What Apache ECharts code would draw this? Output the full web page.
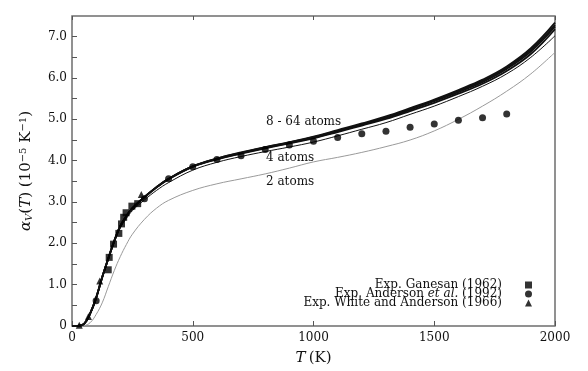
<!DOCTYPE html>
<html><head><meta charset="utf-8">
<script src="https://cdn.jsdelivr.net/npm/echarts@6/dist/echarts.min.js"></script>
<style>html,body{margin:0;padding:0;background:#fff}#c{width:588px;height:371px}</style>
</head><body><div id="c"></div>
<script>
// Temperature grid for computed curves (K)
const T = [0,25,50,75,100,125,150,175,200,225,250,300,350,400,500,600,700,800,900,1000,1100,1200,1300,1400,1500,1600,1700,1800,1900,2000];
// 8 - 64 atoms (four nearly overlapping curves)
const atoms64 = [0,0.005,0.05,0.30,0.68,1.18,1.63,2.06,2.42,2.66,2.85,3.12,3.36,3.56,3.86,4.05,4.20,4.33,4.45,4.58,4.74,4.90,5.07,5.27,5.48,5.71,5.96,6.28,6.72,7.34];
const atoms32 = [0,0.005,0.05,0.30,0.68,1.18,1.63,2.06,2.42,2.66,2.85,3.12,3.36,3.56,3.86,4.05,4.19,4.32,4.44,4.57,4.72,4.88,5.05,5.25,5.46,5.69,5.93,6.25,6.68,7.28];
const atoms16 = [0,0.005,0.05,0.30,0.68,1.18,1.63,2.06,2.42,2.66,2.85,3.12,3.36,3.56,3.86,4.04,4.18,4.31,4.43,4.56,4.71,4.87,5.04,5.23,5.44,5.66,5.90,6.22,6.64,7.24];
const atoms8  = [0,0.005,0.05,0.30,0.68,1.18,1.62,2.05,2.41,2.65,2.84,3.11,3.35,3.55,3.85,4.03,4.17,4.30,4.42,4.54,4.69,4.85,5.01,5.20,5.40,5.62,5.86,6.17,6.58,7.18];
// 4 atoms
const atoms4  = [0,0.005,0.05,0.29,0.66,1.15,1.60,2.02,2.37,2.60,2.79,3.05,3.28,3.47,3.77,3.96,4.10,4.22,4.33,4.45,4.60,4.76,4.92,5.12,5.32,5.55,5.80,6.10,6.50,7.02];
// 2 atoms
const atoms2  = [0,0,0.01,0.08,0.28,0.56,0.95,1.34,1.68,1.97,2.22,2.58,2.85,3.04,3.28,3.44,3.56,3.68,3.82,3.97,4.08,4.20,4.34,4.50,4.72,5.00,5.32,5.68,6.10,6.62];

// Experimental data
const ganesanT = [150,154,172,194,205,214,224,248,272];
const ganesanV = [1.36,1.66,1.98,2.24,2.47,2.63,2.74,2.90,2.96];
const andersonT = [100,300,400,500,600,700,800,900,1000,1100,1200,1300,1400,1500,1600,1700,1800];
const andersonV = [0.61,3.08,3.56,3.85,4.03,4.12,4.27,4.38,4.47,4.56,4.65,4.71,4.81,4.89,4.98,5.04,5.13];
const whiteT = [30,68,115,287];
const whiteV = [0.02,0.23,1.09,3.18];

const xTicks = [0,500,1000,1500,2000];
const yTickLabels = ['0','1.0','2.0','3.0','4.0','5.0','6.0','7.0'];

const FF = 'DejaVu Serif';
const pairs = (xs, ys) => xs.map((x,i)=>[x, ys[i]]);

const chart = echarts.init(document.getElementById('c'));
const lineS = (name, arr, color, width) => ({
  name, type:'line', data: pairs(T, arr), showSymbol:false, smooth:0.4,
  lineStyle:{color, width}, itemStyle:{color}, z:2, silent:true
});
const option = {
  animation:false,
  backgroundColor:'#fff',
  grid:{left:72,right:33,top:16,bottom:45,show:true,borderColor:'#6e6e6e',borderWidth:1.5,backgroundColor:'transparent'},
  legend:{
    data:['Exp. Ganesan (1962)','Exp. Anderson et al. (1992)','Exp. White and Anderson (1966)'],
    orient:'vertical', right:51, top:274, align:'right', itemGap:-3, itemWidth:7, itemHeight:7,
    textStyle:{fontFamily:FF,fontSize:12,color:'#111',lineHeight:9,
      rich:{n:{fontFamily:FF,fontSize:12,color:'#111',lineHeight:9},i:{fontFamily:FF,fontSize:12,fontStyle:'italic',color:'#111',lineHeight:9},g:{width:18}}},
    formatter: function(name){
      if (name.indexOf('et al.')>=0) return '{n|Exp. Anderson }{i|et al.}{n| (1992)}{g|}';
      return '{n|'+name+'}{g|}';
    }
  },
  xAxis:[{
    type:'value', min:0, max:2000, interval:500,
    axisLine:{show:false}, splitLine:{show:false},
    axisTick:{inside:true,length:5,lineStyle:{color:'#555'}},
    axisLabel:{fontFamily:FF,fontSize:12,color:'#111',margin:6,
      formatter:v=> xTicks.indexOf(v)>=0 ? String(v) : ''},
    name:'{i|T} {n|(K)}', nameLocation:'middle', nameGap:25,
    nameTextStyle:{rich:{i:{fontFamily:FF,fontSize:15,fontStyle:'italic',color:'#111'},n:{fontFamily:FF,fontSize:15,color:'#111'}}}
  },{
    type:'value', position:'top', min:0, max:2000, interval:500,
    axisLine:{show:false}, splitLine:{show:false}, axisLabel:{show:false},
    axisTick:{inside:true,length:4,lineStyle:{color:'#555'}}
  }],
  yAxis:[{
    type:'value', min:0, max:7.5, interval:0.5,
    axisLine:{show:false}, splitLine:{show:false},
    axisTick:{inside:true,length:5,lineStyle:{color:'#555'}},
    axisLabel:{fontFamily:FF,fontSize:12,color:'#111',margin:5,showMaxLabel:false,
      formatter:v=> (Math.abs(v%1)<1e-9 && v<=7) ? yTickLabels[Math.round(v)] : ''},
    name:'{i|α}{s|V}{n|(}{i|T}{n|) (10}{p|−5}{n| K}{p|−1}{n|)}', nameLocation:'middle', nameGap:38, nameRotate:90,
    nameTextStyle:{rich:{
      i:{fontFamily:FF,fontSize:15,fontStyle:'italic',color:'#111'},
      n:{fontFamily:FF,fontSize:15,color:'#111'},
      s:{fontFamily:FF,fontSize:10,fontStyle:'italic',color:'#111',verticalAlign:'bottom',padding:[6,0,0,0]},
      p:{fontFamily:FF,fontSize:10,color:'#111',verticalAlign:'top',padding:[0,0,6,0]}
    }}
  }],
  graphic:[
    {type:'text',left:266,top:116,style:{text:'8 - 64 atoms',font:'12px "DejaVu Serif"',fill:'#111'},z:10},
    {type:'text',left:266,top:152,style:{text:'4 atoms',font:'12px "DejaVu Serif"',fill:'#111'},z:10},
    {type:'text',left:266,top:176,style:{text:'2 atoms',font:'12px "DejaVu Serif"',fill:'#111'},z:10}
  ],
  series:[
    lineS('2 atoms', atoms2, '#9a9a9a', 1),
    lineS('4 atoms', atoms4, '#111', 1),
    lineS('8 atoms', atoms8, '#111', 1.8),
    lineS('16 atoms', atoms16, '#111', 1.8),
    lineS('32 atoms', atoms32, '#111', 1.8),
    lineS('64 atoms', atoms64, '#111', 1.8),
    {name:'Exp. Ganesan (1962)', type:'scatter', symbol:'rect', symbolSize:7, data:pairs(ganesanT,ganesanV), itemStyle:{color:'#000'}, z:5},
    {name:'Exp. Anderson et al. (1992)', type:'scatter', symbol:'circle', symbolSize:7, data:pairs(andersonT,andersonV), itemStyle:{color:'#000'}, z:5},
    {name:'Exp. White and Anderson (1966)', type:'scatter', symbol:'triangle', symbolSize:7, data:pairs(whiteT,whiteV), itemStyle:{color:'#000'}, z:5}
  ]
};
chart.setOption(option);
</script></body></html>
